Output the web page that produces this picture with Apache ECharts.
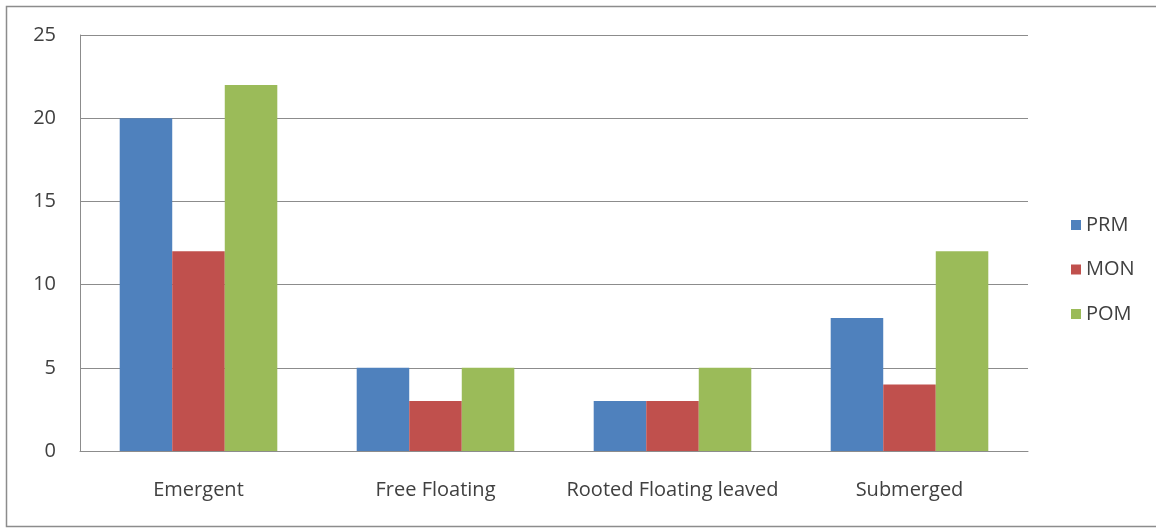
<!DOCTYPE html>
<html>
<head>
<meta charset="utf-8">
<script src="https://cdn.jsdelivr.net/npm/echarts@6/dist/echarts.min.js"></script>
<style>
  html, body { margin: 0; padding: 0; background: #fff; }
  #chart { width: 1156px; height: 529px; }
</style>
</head>
<body>
<div id="chart"></div>
<script>
// Plant life-form counts per site
const categories = ['Emergent', 'Free Floating', 'Rooted Floating leaved', 'Submerged'];
const prm = [20, 5, 3, 8];
const mon = [12, 3, 3, 4];
const pom = [22, 5, 5, 12];

const textColor = '#404040';
const fontFamily = '"Open Sans", sans-serif';
const fontSize = 20;

const chart = echarts.init(document.getElementById('chart'), null, { renderer: 'canvas' });

chart.setOption({
  animation: false,
  backgroundColor: '#fff',
  textStyle: { fontFamily: fontFamily, color: textColor },
  graphic: [{
    type: 'rect',
    shape: { x: 6.5, y: 6.5, width: 1160, height: 520 },
    style: { fill: null, stroke: '#8c8c8c', lineWidth: 1.5 },
    silent: true,
    z: -1
  }],
  grid: { left: 80, right: 128, top: 35, bottom: 78, containLabel: false },
  legend: {
    orient: 'vertical',
    left: 1066,
    top: 210,
    itemWidth: 10,
    itemHeight: 10,
    itemGap: 24.5,
    icon: 'rect',
    textStyle: { fontSize: fontSize, color: textColor, fontFamily: fontFamily },
    data: ['PRM', 'MON', 'POM']
  },
  xAxis: {
    type: 'category',
    data: categories,
    axisLine: { show: true, lineStyle: { color: '#8c8c8c', width: 1 } },
    axisTick: { show: false },
    axisLabel: { interval: 0, fontSize: fontSize, color: textColor, margin: 29, fontFamily: fontFamily },
    splitLine: { show: false }
  },
  yAxis: {
    type: 'value',
    min: 0,
    max: 25,
    interval: 5,
    axisLine: { show: true, lineStyle: { color: '#8c8c8c', width: 1 } },
    axisTick: { show: false },
    axisLabel: { fontSize: fontSize, color: textColor, margin: 24, fontFamily: fontFamily },
    splitLine: { show: true, lineStyle: { color: '#8c8c8c', width: 1 } }
  },
  series: [
    { name: 'PRM', type: 'bar', data: prm, barGap: '0%', barCategoryGap: '33.5%', itemStyle: { color: '#4F81BD' } },
    { name: 'MON', type: 'bar', data: mon, itemStyle: { color: '#C0504D' } },
    { name: 'POM', type: 'bar', data: pom, itemStyle: { color: '#9BBB59' } }
  ]
});
</script>
</body>
</html>
